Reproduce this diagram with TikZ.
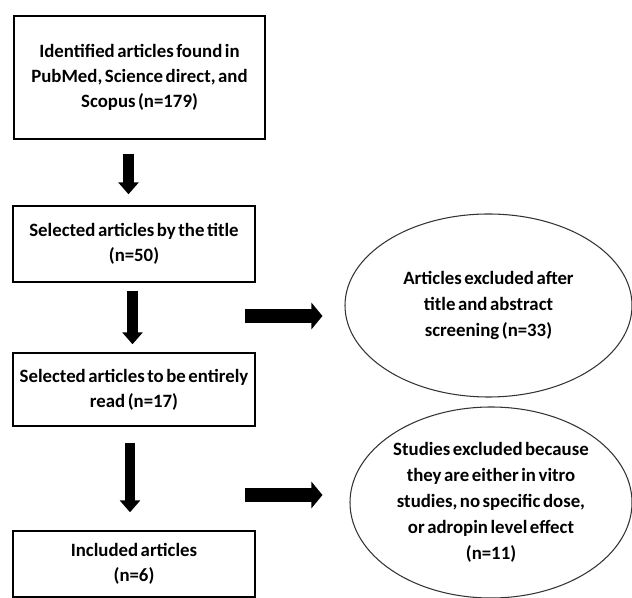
\documentclass[tikz,border=0pt]{standalone}
\usepackage{fontspec}
\setmainfont[WordSpace=0.6]{Carlito}
\usetikzlibrary{arrows.meta,shapes.geometric}
\tikzset{
    box/.style={rectangle, draw, line width=0.8pt, align=center, inner sep=1pt,
        font=\fontsize{10.7}{14.4}\selectfont\bfseries},
    excl/.style={ellipse, draw=black!80, line width=0.6pt, align=center, inner sep=0pt,
        font=\fontsize{10.7}{14.8}\selectfont\bfseries}
}
\tikzset{
    darr/.style={line width=0.21cm, -{Triangle[width=0.40cm, length=0.24cm]}},
    rarr/.style={line width=0.28cm, -{Triangle[width=0.52cm, length=0.22cm]}}
}

\begin{document}
\begin{tikzpicture}
    \useasboundingbox (0,0) rectangle (12.64cm,-11.96cm);

    \node (b1) [box, minimum width=5.02cm, minimum height=2.46cm] at (2.79cm, -1.55cm)
        {Identified articles found in\\PubMed, Science direct, and\\Scopus (n=179)};
    \node (b2) [box, minimum width=4.84cm, minimum height=1.52cm] at (2.68cm, -4.88cm)
        {Selected articles by the title\\(n=50)};
    \node (b3) [box, minimum width=4.84cm, minimum height=1.46cm] at (2.68cm, -7.79cm)
        {Selected articles to be entirely\\read (n=17)};
    \node (b4) [box, minimum width=4.84cm, minimum height=1.32cm] at (2.68cm, -11.28cm)
        {Included articles\\(n=6)};

    \node (e1) [excl, minimum width=5.74cm, minimum height=3.66cm] at (9.77cm, -6.11cm)
        {Articles excluded after\\title and abstract\\screening (n=33)};
    \node (e2) [excl, minimum width=5.64cm, minimum height=3.82cm] at (9.82cm, -10.05cm)
        {Studies excluded because\\they are either in vitro\\studies, no specific dose,\\or adropin level effect\\(n=11)};

    \coordinate (r1) at (4.90cm, -6.32cm);
    \coordinate (r2) at (4.90cm, -9.90cm);

    \draw[darr, shorten <=0.28cm, shorten >=0.22cm] ([xshift=-0.22cm]b1.south) -- ([xshift=-0.11cm]b2.north);
    \draw[darr, shorten <=0.16cm, shorten >=0.16cm] ([xshift=-0.03cm]b2.south) -- ([xshift=-0.03cm]b3.north);
    \draw[darr, shorten <=0.32cm, shorten >=0.36cm] ([xshift=-0.08cm]b3.south) -- ([xshift=-0.08cm]b4.north);

    \draw[rarr, shorten >=0.44cm] (r1) -- (r1 -| e1.west);
    \draw[rarr, shorten >=0.54cm] (r2) -- (r2 -| e2.west);
\end{tikzpicture}
\end{document}
